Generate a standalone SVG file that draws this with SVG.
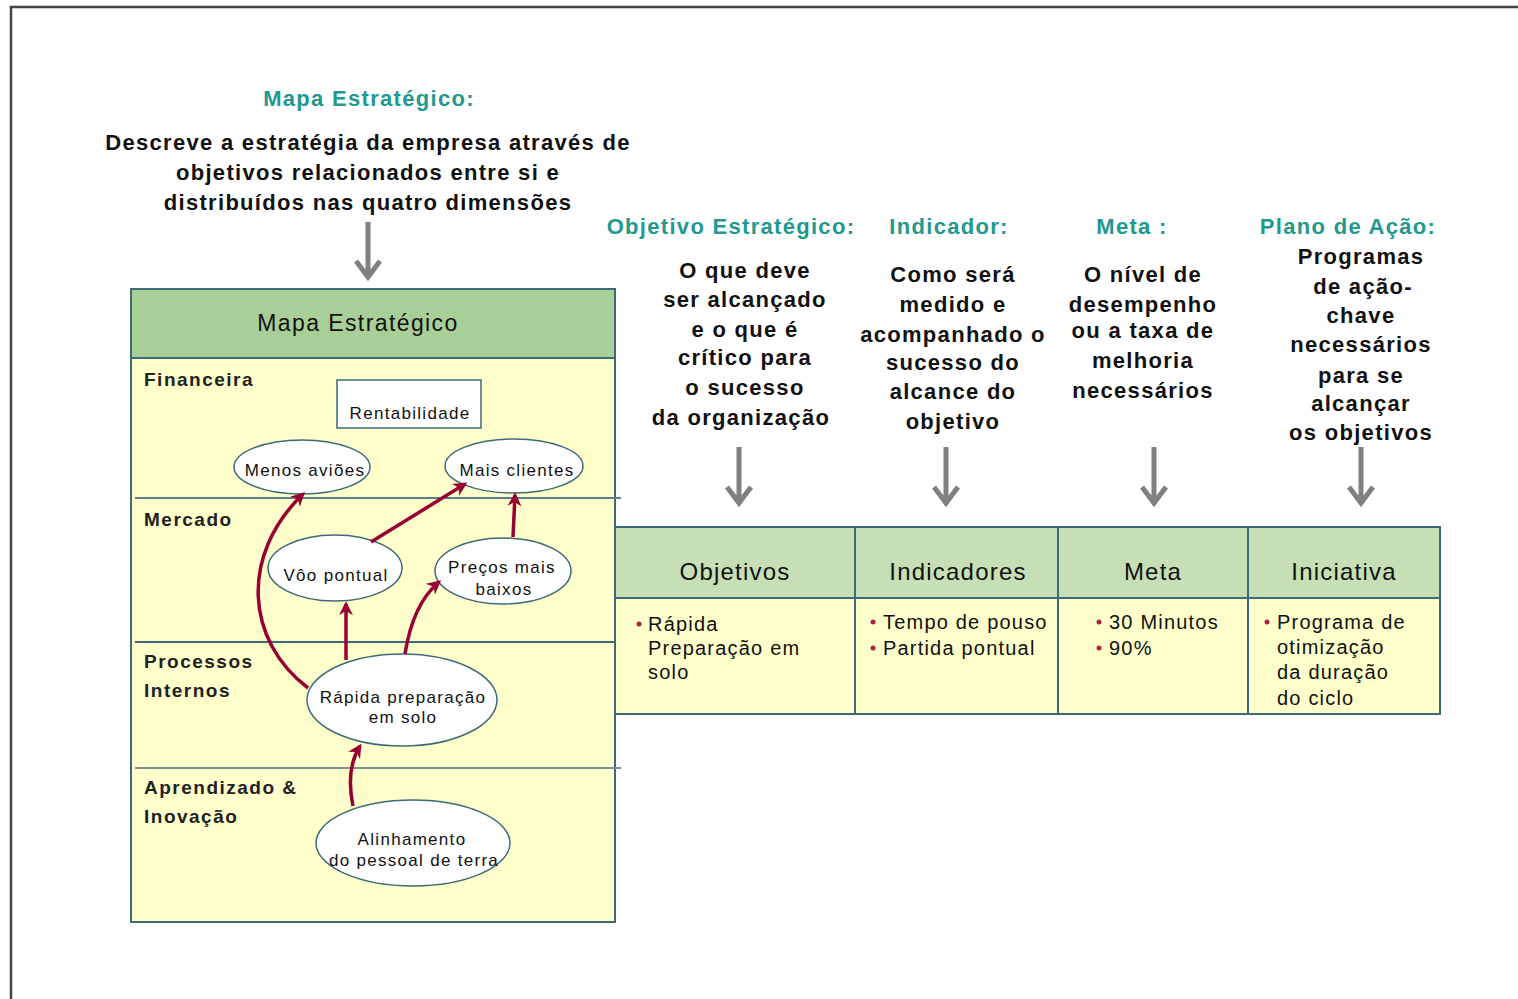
<svg xmlns="http://www.w3.org/2000/svg" width="1518" height="999" viewBox="0 0 1518 999">
<style>
.teal{font-family:"Liberation Sans",Arial,sans-serif;font-weight:bold;font-size:22px;fill:#22998f;text-anchor:middle;letter-spacing:1.3px}
.desc{font-family:"Liberation Sans",Arial,sans-serif;font-weight:bold;font-size:22px;fill:#111;text-anchor:middle;letter-spacing:1.3px}
.sec{font-family:"Liberation Sans",Arial,sans-serif;font-weight:bold;font-size:19px;fill:#222;letter-spacing:1.5px}
.node{fill:#fff;stroke:#3d6a78;stroke-width:1.5}
.nt{font-family:"Liberation Sans",Arial,sans-serif;font-size:17px;fill:#111;text-anchor:middle;letter-spacing:1.3px}
.th{font-family:"Liberation Sans",Arial,sans-serif;font-size:24px;fill:#111;text-anchor:middle;letter-spacing:1.2px}
.mh{font-family:"Liberation Sans",Arial,sans-serif;font-size:23px;fill:#111;text-anchor:middle;letter-spacing:1.4px}
.tb{font-family:"Liberation Sans",Arial,sans-serif;font-size:20px;fill:#111;letter-spacing:1.2px}
.bul{fill:#b02040}
.grid{stroke:#3d6a78;stroke-width:2;fill:none}
.red{fill:none;stroke:#990033;stroke-width:3.5;marker-end:url(#rh)}
.gray{fill:none;stroke:#808080;stroke-width:5}
</style>
<defs>
<marker id="rh" viewBox="0 0 10 10" refX="8" refY="5" markerWidth="4" markerHeight="4" orient="auto" markerUnits="strokeWidth">
<path d="M0,0 L10,5 L0,10 L3,5 Z" fill="#990033"/>
</marker>
</defs>
<rect width="1518" height="999" fill="#fff"/>
<path d="M11,999 V7 H1518" fill="none" stroke="#444" stroke-width="2.5"/>

<g id="titles">
<text class="teal" x="369" y="106">Mapa Estratégico:</text>
<text class="desc" x="368" y="150">Descreve a estratégia da empresa através de</text>
<text class="desc" x="368" y="180">objetivos relacionados entre si e</text>
<text class="desc" x="368" y="210">distribuídos nas quatro dimensões</text>
<text class="teal" x="731" y="234">Objetivo Estratégico:</text>
<text class="teal" x="949" y="234">Indicador:</text>
<text class="teal" x="1132" y="234">Meta :</text>
<text class="teal" x="1348" y="234">Plano de Ação:</text>
<text class="desc" x="745" y="278">O que deve</text>
<text class="desc" x="745" y="307">ser alcançado</text>
<text class="desc" x="745" y="337">e o que é</text>
<text class="desc" x="745" y="365">crítico para</text>
<text class="desc" x="745" y="395">o sucesso</text>
<text class="desc" x="741" y="425">da organização</text>
<text class="desc" x="953" y="282">Como será</text>
<text class="desc" x="953" y="312">medido e</text>
<text class="desc" x="953" y="342">acompanhado o</text>
<text class="desc" x="953" y="370">sucesso do</text>
<text class="desc" x="953" y="399">alcance do</text>
<text class="desc" x="953" y="429">objetivo</text>
<text class="desc" x="1143" y="282">O nível de</text>
<text class="desc" x="1143" y="312">desempenho</text>
<text class="desc" x="1143" y="338">ou a taxa de</text>
<text class="desc" x="1143" y="368">melhoria</text>
<text class="desc" x="1143" y="398">necessários</text>
<text class="desc" x="1361" y="264">Programas</text>
<text class="desc" x="1363" y="294">de ação-</text>
<text class="desc" x="1361" y="323">chave</text>
<text class="desc" x="1361" y="352">necessários</text>
<text class="desc" x="1361" y="383">para se</text>
<text class="desc" x="1361" y="411">alcançar</text>
<text class="desc" x="1361" y="440">os objetivos</text>
</g>

<g id="gray-arrows">
<path class="gray" d="M368,222 V276 M356,261 L368,277 L380,261"/>
<path class="gray" d="M739,447 V502 M727,487 L739,503 L751,487"/>
<path class="gray" d="M946,447 V502 M934,487 L946,503 L958,487"/>
<path class="gray" d="M1154,447 V502 M1142,487 L1154,503 L1166,487"/>
<path class="gray" d="M1361,447 V502 M1349,487 L1361,503 L1373,487"/>
</g>

<g id="map">
<rect x="131" y="289" width="484" height="633" fill="#ffffcc"/>
<rect x="131" y="289" width="484" height="69" fill="#a9cf98"/>
<rect x="131" y="289" width="484" height="633" class="grid"/>
<line x1="131" y1="358" x2="615" y2="358" class="grid"/>
<line x1="135" y1="498" x2="621" y2="498" stroke="#5d7f88" stroke-width="1.8"/>
<line x1="135" y1="642" x2="621" y2="642" stroke="#3d6a78" stroke-width="1.8"/>
<line x1="135" y1="768" x2="621" y2="768" stroke="#7a9096" stroke-width="1.8"/>
<text class="mh" x="358" y="331">Mapa Estratégico</text>
<text class="sec" x="144" y="386">Financeira</text>
<text class="sec" x="144" y="526">Mercado</text>
<text class="sec" x="144" y="668">Processos</text>
<text class="sec" x="144" y="697">Internos</text>
<text class="sec" x="144" y="794">Aprendizado &amp;</text>
<text class="sec" x="144" y="823">Inovação</text>
</g>

<g id="rentabilidade">
<rect x="337" y="380" width="144" height="48" class="node"/>
<text class="nt" x="410" y="419">Rentabilidade</text>
</g>
<g id="menos-avioes">
<ellipse cx="302" cy="467" rx="68" ry="27" class="node"/>
<text class="nt" x="305" y="476">Menos aviões</text>
</g>
<g id="mais-clientes">
<ellipse cx="514" cy="466" rx="69" ry="27" class="node"/>
<text class="nt" x="517" y="476">Mais clientes</text>
</g>
<g id="voo-pontual">
<ellipse cx="335" cy="568" rx="67" ry="33" class="node"/>
<text class="nt" x="336" y="581">Vôo pontual</text>
</g>
<g id="precos">
<ellipse cx="503" cy="571" rx="68" ry="33" class="node"/>
<text class="nt" x="502" y="573">Preços mais</text>
<text class="nt" x="504" y="595">baixos</text>
</g>
<g id="rapida">
<ellipse cx="402" cy="700" rx="95" ry="46" class="node"/>
<text class="nt" x="403" y="703">Rápida preparação</text>
<text class="nt" x="403" y="723">em solo</text>
</g>
<g id="alinhamento">
<ellipse cx="413" cy="843" rx="97" ry="43" class="node"/>
<text class="nt" x="412" y="845">Alinhamento</text>
<text class="nt" x="414" y="866">do pessoal de terra</text>
</g>

<g id="connectors">
<path class="red" d="M308,688 C245,640 240,555 303,494"/>
<path class="red" d="M371,542 L465,484"/>
<path class="red" d="M513,537 L515,495"/>
<path class="red" d="M346,660 L346,604"/>
<path class="red" d="M405,654 C410,622 420,598 439,582"/>
<path class="red" d="M353,806 C348,782 350,762 360,746"/>
</g>

<g id="table">
<rect x="615" y="527" width="825" height="71" fill="#c6dfb4"/>
<rect x="615" y="598" width="825" height="116" fill="#ffffcc"/>
<rect x="615" y="527" width="825" height="187" class="grid"/>
<line x1="615" y1="598" x2="1440" y2="598" class="grid"/>
<line x1="855" y1="527" x2="855" y2="714" class="grid"/>
<line x1="1058" y1="527" x2="1058" y2="714" class="grid"/>
<line x1="1248" y1="527" x2="1248" y2="714" class="grid"/>
<text class="th" x="735" y="580">Objetivos</text>
<text class="th" x="958" y="580">Indicadores</text>
<text class="th" x="1153" y="580">Meta</text>
<text class="th" x="1344" y="580">Iniciativa</text>
<circle class="bul" cx="639" cy="624" r="2.5"/>
<text class="tb" x="648" y="631">Rápida</text>
<text class="tb" x="648" y="655">Preparação em</text>
<text class="tb" x="648" y="679">solo</text>
<circle class="bul" cx="873" cy="622" r="2.5"/>
<text class="tb" x="883" y="629">Tempo de pouso</text>
<circle class="bul" cx="873" cy="648" r="2.5"/>
<text class="tb" x="883" y="655">Partida pontual</text>
<circle class="bul" cx="1099" cy="622" r="2.5"/>
<text class="tb" x="1109" y="629">30 Minutos</text>
<circle class="bul" cx="1099" cy="648" r="2.5"/>
<text class="tb" x="1109" y="655">90%</text>
<circle class="bul" cx="1267" cy="622" r="2.5"/>
<text class="tb" x="1277" y="629">Programa de</text>
<text class="tb" x="1277" y="654">otimização</text>
<text class="tb" x="1277" y="679">da duração</text>
<text class="tb" x="1277" y="705">do ciclo</text>
</g>
</svg>
